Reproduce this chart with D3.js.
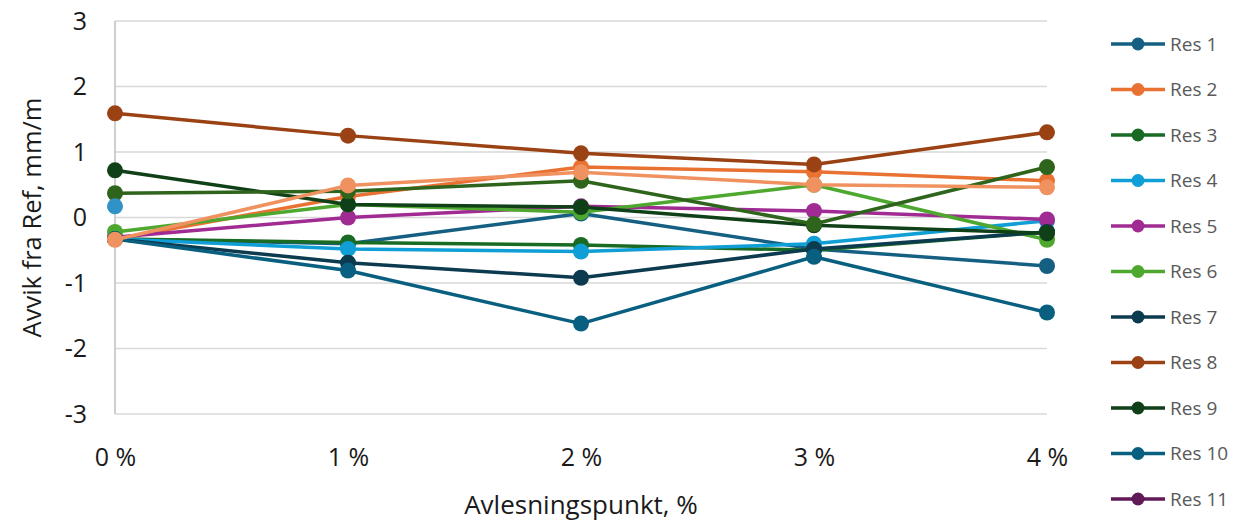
<!DOCTYPE html>
<html>
<head>
<meta charset="utf-8">
<script src="https://cdn.jsdelivr.net/npm/d3@7"></script>
<style>
  html, body { margin: 0; padding: 0; background: #fff; }
  svg { display: block; font-family: "Open Sans", "Noto Sans", sans-serif; }
</style>
</head>
<body>
<svg id="chart" width="1242" height="525"></svg>
<script>
// Reading points along the x axis
const categories = ["0 %", "1 %", "2 %", "3 %", "4 %"];
const yTicks = [-3, -2, -1, 0, 1, 2, 3];

const seriesNames = ["Res 1", "Res 2", "Res 3", "Res 4", "Res 5", "Res 6", "Res 7",
                     "Res 8", "Res 9", "Res 10", "Res 11", "Res 12", "Res 13", "Res 14"];

// Deviation from reference, mm/m (null = no reading)
const res1  = [-0.33, -0.40,  0.06, -0.48, -0.74];
const res2  = [-0.33,  0.32,  0.77,  0.70,  0.56];
const res3  = [-0.33, -0.38, -0.42, -0.50, -0.22];
const res4  = [-0.33, -0.48, -0.52, -0.40, -0.05];
const res5  = [-0.30,  0.00,  0.17,  0.10, -0.03];
const res6  = [-0.22,  0.20,  0.08,  0.50, -0.34];
const res7  = [-0.33, -0.69, -0.92, -0.48, -0.22];
const res8  = [ 1.59,  1.25,  0.98,  0.81,  1.30];
const res9  = [ 0.72,  0.20,  0.16, -0.12, -0.24];
const res10 = [-0.33, -0.81, -1.62, -0.60, -1.45];
const res11 = [null, null, null, null, null];
const res12 = [ 0.37,  0.40,  0.56, -0.10,  0.77];
const res13 = [ 0.17,  null,  null,  null,  null];
const res14 = [-0.34,  0.49,  0.69,  0.50,  0.46];

const seriesValues = [res1, res2, res3, res4, res5, res6, res7,
                      res8, res9, res10, res11, res12, res13, res14];
const seriesColors = ["#156082", "#E97132", "#196B24", "#0F9ED5", "#A02B93", "#4EA72E",
                      "#0C3A4F", "#9A4214", "#0F4017", "#095F80", "#601A58", "#2F641C",
                      "#2F93C8", "#F09260"];
// Only the first entries fit in the legend column
const legendCount = 11;

const svg = d3.select("#chart");
const margin = { left: 115, right: 195, top: 21, bottom: 111 };
const W = 1242, H = 525;

const x = d3.scalePoint().domain(categories).range([margin.left, W - margin.right]);
const y = d3.scaleLinear().domain([-3, 3]).range([H - margin.bottom, margin.top]);

// Horizontal gridlines
svg.append("g")
  .selectAll("line")
  .data(yTicks)
  .join("line")
  .attr("x1", x.range()[0]).attr("x2", x.range()[1])
  .attr("y1", d => y(d)).attr("y2", d => y(d))
  .attr("stroke", "#d9d9d9").attr("stroke-width", 1.5);

// Vertical axis line
svg.append("line")
  .attr("x1", x.range()[0]).attr("x2", x.range()[0])
  .attr("y1", y(3)).attr("y2", y(-3))
  .attr("stroke", "#bfbfbf").attr("stroke-width", 1.5);

// Y axis (plain hyphen for negatives)
const yAxis = svg.append("g")
  .attr("transform", `translate(${margin.left - 28},0)`)
  .call(d3.axisLeft(y).tickValues(yTicks).tickSize(0).tickFormat(d => String(d)));
yAxis.select(".domain").remove();
yAxis.selectAll("text")
  .attr("x", 0).attr("dx", 0)
  .attr("font-size", 25).attr("fill", "#1a1a1a")
  .style("font-family", "'Open Sans', sans-serif");

// X axis
const xAxis = svg.append("g")
  .attr("transform", `translate(0,${y(-3) + 31})`)
  .call(d3.axisBottom(x).tickSize(0));
xAxis.select(".domain").remove();
xAxis.selectAll("text")
  .attr("font-size", 25).attr("fill", "#1a1a1a")
  .style("font-family", "'Open Sans', sans-serif");

// Axis titles
svg.append("text")
  .attr("transform", `translate(41,${(y(3) + y(-3)) / 2}) rotate(-90)`)
  .attr("text-anchor", "middle")
  .attr("font-size", 25.5).attr("fill", "#1a1a1a")
  .text("Avvik fra Ref, mm/m");

svg.append("text")
  .attr("x", (x.range()[0] + x.range()[1]) / 2).attr("y", 514)
  .attr("text-anchor", "middle")
  .attr("font-size", 26).attr("fill", "#1a1a1a")
  .text("Avlesningspunkt, %");

// Series lines and markers
const line = d3.line()
  .defined(d => d.v !== null)
  .x(d => x(d.c)).y(d => y(d.v));

const series = seriesNames.map((name, i) => ({
  name, color: seriesColors[i],
  points: categories.map((c, j) => ({ c, v: seriesValues[i][j] }))
}));

const g = svg.append("g");
series.forEach(s => {
  const sg = g.append("g");
  sg.append("path")
    .datum(s.points)
    .attr("d", line)
    .attr("fill", "none")
    .attr("stroke", s.color)
    .attr("stroke-width", 3.5)
    .attr("stroke-linejoin", "round");
  sg.selectAll("circle")
    .data(s.points.filter(d => d.v !== null))
    .join("circle")
    .attr("cx", d => x(d.c)).attr("cy", d => y(d.v))
    .attr("r", 8)
    .attr("fill", s.color);
});

// Legend
const legend = svg.append("g");
series.slice(0, legendCount).forEach((s, i) => {
  const ly = 44 + i * 45.5;
  const lg = legend.append("g").attr("transform", `translate(0,${ly})`);
  lg.append("line")
    .attr("x1", 1111).attr("x2", 1165).attr("y1", 0).attr("y2", 0)
    .attr("stroke", s.color).attr("stroke-width", 3.5);
  lg.append("circle").attr("cx", 1138).attr("cy", 0).attr("r", 6.5).attr("fill", s.color);
  lg.append("text")
    .attr("x", 1170).attr("y", 0).attr("dy", "0.35em")
    .attr("font-size", 19).attr("fill", "#595959")
    .text(s.name);
});
</script>
</body>
</html>
